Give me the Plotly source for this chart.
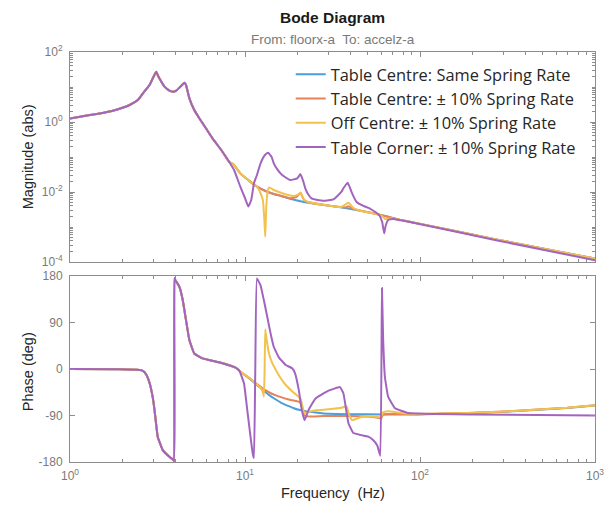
import plotly.graph_objects as go

# ---------------- data ----------------
# shared low-frequency part (all four cases coincide)
f_common_mag = [1.0, 1.14, 1.42, 1.76, 2.19, 2.45, 2.61, 2.75, 2.85, 2.96, 3.04, 3.11, 3.17, 3.24,
                3.47, 3.70, 3.87, 4.05, 4.22, 4.40, 4.50, 4.60, 4.81, 5.13, 5.48, 5.98, 6.52, 7.43, 8.11]
mag_common = [1.25, 1.42, 1.69, 2.1, 3.06, 4.3, 6.6, 9.2, 11.4, 17.0, 22.5, 27.3, 22.0, 17.7,
              10.2, 7.85, 7.35, 7.9, 9.6, 11.8, 13.3, 11.4, 4.75, 2.2, 1.28, 0.66, 0.342, 0.1416, 0.0735]

f_common_ph = [1.0, 1.92, 2.50, 2.61, 2.73, 2.85, 2.97, 3.04, 3.17, 3.39, 3.70, 3.90, 3.94, 3.95,
               4.00, 4.22, 4.41, 4.60, 4.81, 5.13, 5.71, 7.11, 8.83]
ph_common = [0, -0.5, -2, -3.5, -11, -27, -55, -79, -131, -157, -170, -176, -179, 176,
             172, 159, 133, 95, 56, 30, 20.6, 13, 2.6]

# Table Centre: Same Spring Rate
f_blue_mag = [8.66, 9.4, 10.54, 11.7, 13.1, 14.6, 16.2, 18.1, 22.5, 28.1, 35.0, 43.3, 54.1, 65.8,
              78.0, 97.4, 272.0, 1000.0]
mag_blue = [0.059, 0.0341, 0.0211, 0.0142, 0.0107, 0.00877, 0.0076, 0.0064, 0.0050, 0.00425,
            0.00366, 0.00306, 0.00246, 0.00197, 0.00158, 0.00127, 4.42e-4, 1.25e-4]
f_blue_ph = [9.4, 10.54, 11.7, 12.8, 13.7, 15.0, 16.2, 17.8, 19.0, 20.3, 22.5, 25.3, 30.0, 40.0,
             60.0, 97.0, 187.0, 360.0, 693.0, 1000.0]
ph_blue = [-5, -18, -31, -42, -50, -59, -66, -72, -76, -79, -82, -84, -86.5, -87.5,
           -88, -88, -85.5, -81.5, -75.5, -70.5]

# Table Centre: +/- 10% Spring Rate
f_orange_mag = [8.66, 9.4, 10.54, 11.7, 13.1, 14.6, 16.2, 18.1, 19.7, 20.8, 21.4, 21.9, 23.1,
                28.1, 35.0, 37.5, 39.0, 41.0, 43.3, 54.1, 65.8, 78.0, 97.4, 272.0, 1000.0]
mag_orange = [0.059, 0.0341, 0.0211, 0.0142, 0.0107, 0.0088, 0.0077, 0.0066, 0.0072, 0.00955,
              0.0068, 0.0058, 0.0051, 0.0043, 0.0037, 0.0036, 0.0039, 0.0034, 0.0031, 0.00246,
              0.00197, 0.00158, 0.00127, 4.42e-4, 1.25e-4]
f_orange_ph = [9.4, 10.54, 11.7, 12.8, 13.7, 15.0, 16.2, 17.8, 19.0, 20.3, 20.8, 21.4, 21.9,
               23.1, 28.0, 40.0, 54.0, 58.5, 60.0, 61.6, 65.8, 97.0, 187.0, 360.0, 693.0, 1000.0]
ph_orange = [-5, -17, -29, -39, -45, -51, -55, -59, -61, -63, -66, -80, -90,
             -92, -91, -91, -93, -95, -96, -88, -87, -87.5, -85, -81, -75, -70]

# Off Centre: +/- 10% Spring Rate
f_yellow_mag = [8.66, 9.4, 10.54, 11.7, 12.27, 12.65, 12.9, 13.05, 13.25, 13.5, 13.8, 14.6, 16.2,
                18.2, 19.0, 19.8, 20.8, 21.4, 21.9, 23.1, 28.1, 35.0, 37.0, 39.0, 41.6, 46.2,
                54.1, 60.0, 63.2, 68.4, 78.0, 97.4, 272.0, 1000.0]
mag_yellow = [0.059, 0.0341, 0.0213, 0.0142, 0.0092, 0.0059, 0.00158, 5.3e-4, 0.00425, 0.0114,
              0.01345, 0.0114, 0.0094, 0.0079, 0.0077, 0.0081, 0.00955, 0.0069, 0.0058, 0.0051,
              0.0043, 0.0037, 0.00425, 0.0049, 0.0035, 0.00287, 0.00246, 0.00213, 0.0017,
              0.00175, 0.00158, 0.00127, 4.42e-4, 1.25e-4]
f_yellow_ph = [9.4, 10.54, 11.7, 12.33, 12.65, 12.82, 12.95, 13.05, 13.25, 13.7, 14.3, 15.0, 16.0,
               17.1, 19.0, 20.3, 20.8, 21.4, 21.9, 23.1, 25.3, 30.0, 35.6, 38.0, 39.5, 41.0,
               46.2, 54.0, 60.0, 61.6, 65.8, 78.0, 97.0, 187.0, 360.0, 693.0, 1000.0]
ph_yellow = [-5, -17, -30, -37, -45, -53, 0, 77, 60, 30, 12, -2, -18,
             -31, -46, -54, -58, -75, -86, -83, -80, -78, -75, -72, -90, -99,
             -93, -92, -93, -84, -82, -85, -87, -85, -81, -75, -70]

# Table Corner: +/- 10% Spring Rate
f_purple_mag = [8.66, 9.4, 10.0, 10.45, 10.85, 11.25, 11.7, 12.27, 13.0, 13.55, 14.2, 14.6, 15.3,
                16.3, 18.1, 19.9, 20.4, 20.7, 21.0, 21.5, 22.1, 23.1, 24.0, 26.0, 28.1, 32.0,
                33.4, 35.6, 36.5, 38.6, 40.8, 43.3, 47.5, 51.5, 58.5, 60.8, 62.4, 63.6, 65.8,
                70.0, 78.0, 97.4, 272.0, 1000.0]
mag_purple = [0.0425, 0.0142, 0.00674, 0.00385, 0.0059, 0.0177, 0.0306, 0.066, 0.114, 0.133,
              0.1, 0.066, 0.0445, 0.0306, 0.022, 0.0246, 0.029, 0.0327, 0.0285, 0.0206, 0.01276,
              0.0082, 0.0066, 0.0059, 0.00564, 0.00618, 0.00735, 0.0102, 0.0128, 0.01845,
              0.0095, 0.00528, 0.004, 0.00342, 0.0022, 0.00139, 6.6e-4, 0.00107, 0.00158,
              0.0017, 0.00155, 0.00124, 4.2e-4, 1.12e-4]
f_purple_ph = [9.25, 9.87, 10.3, 10.75, 11.1, 11.25, 11.45, 11.7, 12.27, 12.82, 13.4, 14.0, 14.6,
               15.6, 17.1, 18.6, 19.3, 20.3, 21.1, 21.9, 23.1, 25.3, 30.0, 34.9, 36.5, 39.0,
               41.6, 46.2, 50.6, 54.1, 57.0, 59.3, 60.6, 61.6, 63.0, 65.8, 72.0, 85.5, 200.0,
               1000.0]
ph_purple = [-2, -28, -79, -131, -166, -172, 0, 175, 162, 133, 101, 69, 43,
             22.6, 7.8, 1.4, -8, -41, -79, -99, -79, -57, -42, -35, -47, -105,
             -124, -128, -131, -138, -148, -168, 157, 56, -15, -54, -76, -85, -88,
             -90]

series_names = ["Table Centre: Same Spring Rate", "Table Centre: \u00b1 10% Spring Rate",
                "Off Centre: \u00b1 10% Spring Rate", "Table Corner: \u00b1 10% Spring Rate"]
series_colors = ["#4a9fdc", "#e8825a", "#f2c24f", "#a264bf"]

x_tick_vals = [1, 10, 100, 1000]
x_tick_text = ["10<sup>0</sup>", "10<sup>1</sup>", "10<sup>2</sup>", "10<sup>3</sup>"]
mag_tick_vals = [1e-4, 1e-2, 1, 100]
mag_tick_text = ["10<sup>-4</sup>", "10<sup>-2</sup>", "10<sup>0</sup>", "10<sup>2</sup>"]
ph_tick_vals = [-180, -90, 0, 90, 180]
ph_tick_text = ["-180", "-90", "0", "90", "180"]

# ---------------- figure ----------------
mag_tails = [(f_blue_mag, mag_blue), (f_orange_mag, mag_orange),
             (f_yellow_mag, mag_yellow), (f_purple_mag, mag_purple)]
ph_tails = [(f_blue_ph, ph_blue), (f_orange_ph, ph_orange),
            (f_yellow_ph, ph_yellow), (f_purple_ph, ph_purple)]

fig = go.Figure()
for name, color, (fm, m), (fp, p) in zip(series_names, series_colors, mag_tails, ph_tails):
    fig.add_trace(go.Scatter(x=f_common_mag + fm, y=mag_common + m, mode="lines", name=name,
                             line=dict(color=color, width=2, shape="spline", smoothing=0.4),
                             xaxis="x", yaxis="y"))
    fig.add_trace(go.Scatter(x=f_common_ph + fp, y=ph_common + p, mode="lines", name=name,
                             showlegend=False,
                             line=dict(color=color, width=2, shape="spline", smoothing=0.3),
                             xaxis="x2", yaxis="y2"))

# The page body keeps the browser's 8 px margin, so the figure is sized to fit
# the 616x508 window and the margins are set so the axes land where they should.
PAGE_OFF = 8
FIG_W, FIG_H = 616 - PAGE_OFF, 508 - PAGE_OFF

axis_color = "#8c8c8c"
tick_font = dict(family="Liberation Sans, Arial, sans-serif", size=12, color="#7a7a7a")
common_axis = dict(showline=True, linecolor=axis_color, linewidth=1, mirror="ticks",
                   ticks="inside", ticklen=5, tickcolor=axis_color, showgrid=False,
                   zeroline=False, tickfont=tick_font)
minor_log = dict(ticks="inside", ticklen=3, tickcolor=axis_color, dtick="D1", showgrid=False)

fig.update_layout(
    width=FIG_W, height=FIG_H,
    margin=dict(l=70 - PAGE_OFF, r=18, t=52 - PAGE_OFF, b=46),
    paper_bgcolor="white", plot_bgcolor="white",
    font=dict(family="Liberation Sans, Arial, sans-serif", color="#262626"),
    title=dict(text="<b>Bode Diagram</b>", x=0.5, xref="paper", xanchor="center",
               y=1 - (18 - PAGE_OFF) / FIG_H, yref="container", yanchor="middle",
               font=dict(size=15.5, color="#1a1a1a")),
    xaxis=dict(common_axis, domain=[0, 1], anchor="y", type="log", range=[0, 3],
               tickvals=x_tick_vals, ticktext=x_tick_text, showticklabels=False,
               minor=minor_log),
    yaxis=dict(common_axis, domain=[200 / 410, 1], anchor="x", type="log", range=[-4, 2],
               tickvals=mag_tick_vals, ticktext=mag_tick_text, ticklabelstandoff=4,
               minor=minor_log),
    xaxis2=dict(common_axis, domain=[0, 1], anchor="y2", type="log", range=[0, 3],
                matches="x", tickvals=x_tick_vals, ticktext=x_tick_text, ticklabelstandoff=3,
                minor=minor_log),
    yaxis2=dict(common_axis, domain=[0, 186 / 410], anchor="x2", range=[-180, 180],
                tickvals=ph_tick_vals, ticktext=ph_tick_text, ticklabelstandoff=4),
    legend=dict(x=(292 - 70) / 528, y=(462 - 57) / 410, xanchor="left", yanchor="top",
                bgcolor="rgba(255,255,255,0)", borderwidth=0, itemwidth=30,
                font=dict(family="'Open Sans', Lato, sans-serif", size=16.4, color="#262626")),
    annotations=[
        dict(text="From: floorx-a&nbsp; To: accelz-a", x=0.5, y=(462 - 40) / 410,
             xref="paper", yref="paper", xanchor="center", yanchor="middle",
             showarrow=False, font=dict(size=13.5, color="#7a7a7a")),
        dict(text="Magnitude (abs)", x=(28 - 70) / 528, y=(462 - 157) / 410, xref="paper",
             yref="paper", textangle=-90, showarrow=False, xanchor="center",
             yanchor="middle", font=dict(size=14.5, color="#262626")),
        dict(text="Phase (deg)", x=(28 - 70) / 528, y=(462 - 372) / 410, xref="paper",
             yref="paper", textangle=-90, showarrow=False, xanchor="center",
             yanchor="middle", font=dict(size=14.5, color="#262626")),
        dict(text="Frequency&nbsp; (Hz)", x=0.5, y=(462 - 493) / 410, xref="paper",
             yref="paper", showarrow=False, xanchor="center", yanchor="middle",
             font=dict(size=14.5, color="#262626")),
    ],
)

fig.write_html("out.html")
